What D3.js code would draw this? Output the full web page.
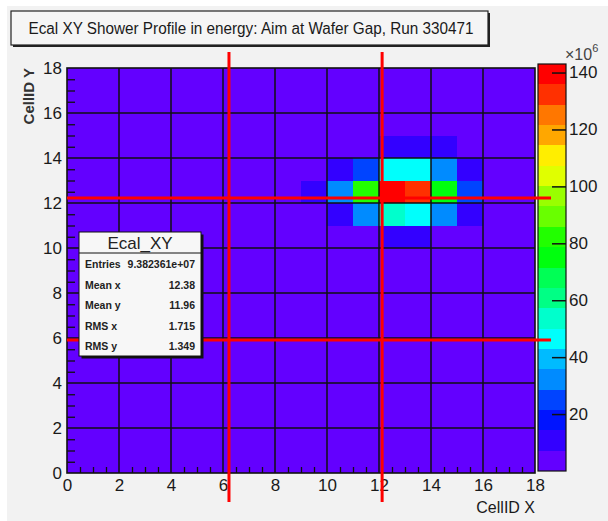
<!DOCTYPE html>
<html>
<head>
<meta charset="utf-8">
<script src="https://cdn.jsdelivr.net/npm/d3@7"></script>
<style>
  body { margin: 0; background: #fff; }
  svg { display: block; font-family: "Liberation Sans", Arial, sans-serif; }
</style>
</head>
<body>
<svg id="chart" width="608" height="521"></svg>
<script>
// cell ids on both axes, one bin per unit
const nCells = 18;
const axisTicks = [0, 2, 4, 6, 8, 10, 12, 14, 16, 18];
// energy in every bin outside the shower core (x 10^6)
const backgroundEnergy = 3;
// shower core bins: [cellX, cellY, energy x 10^6]
const hotCells = [
  [12, 14, 10], [13, 14, 10], [14, 14, 10],
  [10, 13, 10], [11, 13, 25], [12, 13, 46], [13, 13, 46], [14, 13, 32], [15, 13, 10],
  [9, 12, 10], [10, 12, 32], [11, 12, 82], [12, 12, 141], [13, 12, 133], [14, 12, 75], [15, 12, 25],
  [10, 11, 10], [11, 11, 32], [12, 11, 54], [13, 11, 46], [14, 11, 32], [15, 11, 10],
  [12, 10, 10], [13, 10, 10]
];
const zMax = 143;
const zTicks = [20, 40, 60, 80, 100, 120, 140];
const nContours = 20;
// red guide lines drawn over the plot (cell units)
const guideX = [6.23, 12.12];
const guideY = [12.22, 5.91];
const statNames = ["Entries", "Mean x", "Mean y", "RMS x", "RMS y"];
const statValues = ["9.382361e+07", "12.38", "11.96", "1.715", "1.349"];

const svg = d3.select("#chart");
svg.append("rect").attr("x", 7).attr("y", 6).attr("width", 601).attr("height", 515).attr("fill", "#f2f2f2");

const frame = { left: 67, right: 535, top: 68, bottom: 473 };
const x = d3.scaleLinear().domain([0, nCells]).range([frame.left, frame.right]);
const y = d3.scaleLinear().domain([0, nCells]).range([frame.bottom, frame.top]);

// ROOT "pretty" palette, 50 colours violet->red, picked for 20 contours
function paletteColor(k) {
  const idx = Math.floor((k + 0.99) * 50 / nContours);
  if (idx >= 49) return "#ff0000";
  return d3.hsl(280 - (idx + 1) * 5.6, 1, 0.5).formatHex();
}
const colors = d3.range(nContours).map(paletteColor);
const color = d3.scaleQuantize().domain([0, zMax]).range(colors);

// full grid of bins
const hotMap = new Map(hotCells.map(d => [d[0] + "," + d[1], d[2]]));
const bins = [];
for (let i = 0; i < nCells; i++) {
  for (let j = 0; j < nCells; j++) {
    const v = hotMap.get(i + "," + j);
    bins.push({ cx: i, cy: j, e: v === undefined ? backgroundEnergy : v });
  }
}

svg.append("g").selectAll("rect")
  .data(bins)
  .enter().append("rect")
  .attr("x", d => x(d.cx))
  .attr("y", d => y(d.cy + 1))
  .attr("width", d => x(d.cx + 1) - x(d.cx))
  .attr("height", d => y(d.cy) - y(d.cy + 1))
  .attr("fill", d => color(d.e))
  .attr("shape-rendering", "crispEdges");

// grid lines every 2 cells
const grid = svg.append("g").attr("stroke", "#111").attr("stroke-width", 1.5);
grid.selectAll("line.gx")
  .data(axisTicks.slice(1, -1))
  .enter().append("line")
  .attr("x1", d => x(d)).attr("x2", d => x(d))
  .attr("y1", frame.top).attr("y2", frame.bottom);
grid.selectAll("line.gy")
  .data(axisTicks.slice(1, -1))
  .enter().append("line")
  .attr("y1", d => y(d)).attr("y2", d => y(d))
  .attr("x1", frame.left).attr("x2", frame.right);

// minor ticks
const minor = d3.range(0, nCells + 0.01, 0.5).filter(v => v % 2 !== 0);
svg.append("g")
  .attr("transform", `translate(0,${frame.bottom})`)
  .call(d3.axisBottom(x).tickValues(minor).tickSize(-6).tickFormat(""))
  .call(g => g.select(".domain").remove())
  .selectAll("line").attr("stroke", "#111").attr("stroke-width", 1.3);
svg.append("g")
  .attr("transform", `translate(${frame.left},0)`)
  .call(d3.axisLeft(y).tickValues(minor).tickSize(-8).tickFormat(""))
  .call(g => g.select(".domain").remove())
  .selectAll("line").attr("stroke", "#111").attr("stroke-width", 1.3);

// axis labels
const xAxis = svg.append("g")
  .attr("transform", `translate(0,${frame.bottom})`)
  .call(d3.axisBottom(x).tickValues(axisTicks).tickSize(0).tickPadding(6));
xAxis.select(".domain").remove();
xAxis.selectAll("text").attr("font-size", 17).attr("fill", "#1a1a1a")
  .attr("font-family", "Liberation Sans, Arial, sans-serif");

const yAxis = svg.append("g")
  .attr("transform", `translate(${frame.left},0)`)
  .call(d3.axisLeft(y).tickValues(axisTicks).tickSize(0).tickPadding(5));
yAxis.select(".domain").remove();
yAxis.selectAll("text").attr("font-size", 17).attr("fill", "#1a1a1a")
  .attr("font-family", "Liberation Sans, Arial, sans-serif");

svg.append("rect")
  .attr("x", frame.left).attr("y", frame.top)
  .attr("width", frame.right - frame.left).attr("height", frame.bottom - frame.top)
  .attr("fill", "none").attr("stroke", "#111").attr("stroke-width", 1.6);

svg.append("text").attr("x", frame.right).attr("y", 513)
  .attr("text-anchor", "end").attr("font-size", 16).attr("fill", "#1a1a1a")
  .text("CellID X");
svg.append("text")
  .attr("transform", `translate(34,${frame.top}) rotate(-90)`)
  .attr("text-anchor", "end").attr("font-size", 15).attr("font-weight", "bold").attr("fill", "#333")
  .text("CellID Y");

// colour bar
const zx0 = 538, zx1 = 566;
const z = d3.scaleLinear().domain([0, zMax]).range([471, 64]);
const step = zMax / nContours;
svg.append("g").selectAll("rect")
  .data(colors)
  .enter().append("rect")
  .attr("x", zx0).attr("width", zx1 - zx0)
  .attr("y", (c, i) => z((i + 1) * step))
  .attr("height", (c, i) => z(i * step) - z((i + 1) * step))
  .attr("fill", c => c)
  .attr("shape-rendering", "crispEdges");
svg.append("rect").attr("x", zx0).attr("y", 64).attr("width", zx1 - zx0).attr("height", 407)
  .attr("fill", "none").attr("stroke", "#111").attr("stroke-width", 1.2);
const zAxis = svg.append("g")
  .attr("transform", `translate(${zx1},0)`)
  .call(d3.axisRight(z).tickValues(zTicks).tickSizeInner(-14).tickSizeOuter(0).tickPadding(3));
zAxis.select(".domain").remove();
zAxis.selectAll("line").attr("stroke", "#111").attr("stroke-width", 1.5);
zAxis.selectAll("text").attr("font-size", 17).attr("fill", "#1a1a1a")
  .attr("font-family", "Liberation Sans, Arial, sans-serif");
const exp = svg.append("text").attr("x", 565).attr("y", 60).attr("font-size", 16).attr("fill", "#444");
exp.append("tspan").text("\u00d710");
exp.append("tspan").attr("dy", -8).attr("font-size", 11).text("6");

// red guide lines
const guides = svg.append("g").attr("stroke", "#ff0000").attr("stroke-width", 3);
guides.selectAll("line.vx")
  .data(guideX)
  .enter().append("line")
  .attr("x1", d => x(d)).attr("x2", d => x(d))
  .attr("y1", 52).attr("y2", 502);
guides.selectAll("line.hy")
  .data(guideY)
  .enter().append("line")
  .attr("y1", d => y(d)).attr("y2", d => y(d))
  .attr("x1", frame.left).attr("x2", 551);

// stats box
const sb = { x: 79, y: 232, w: 122, h: 124 };
svg.append("rect").attr("x", sb.x + 2.5).attr("y", sb.y + 2.5).attr("width", sb.w).attr("height", sb.h).attr("fill", "#111");
svg.append("rect").attr("x", sb.x).attr("y", sb.y).attr("width", sb.w).attr("height", sb.h)
  .attr("fill", "#f7f7f7").attr("stroke", "#111").attr("stroke-width", 1);
svg.append("line").attr("x1", sb.x).attr("x2", sb.x + sb.w).attr("y1", sb.y + 21).attr("y2", sb.y + 21)
  .attr("stroke", "#111").attr("stroke-width", 1);
svg.append("text").attr("x", sb.x + sb.w / 2).attr("y", sb.y + 17).attr("text-anchor", "middle")
  .attr("font-size", 17).attr("fill", "#222").text("Ecal_XY");
const statRow = d3.scaleLinear().domain([0, 4]).range([sb.y + 36, sb.y + 118]);
svg.append("g").selectAll("text")
  .data(statNames)
  .enter().append("text")
  .attr("x", sb.x + 6).attr("y", (d, i) => statRow(i))
  .attr("font-size", 10.5).attr("font-weight", "bold").attr("fill", "#222")
  .text(d => d);
svg.append("g").selectAll("text")
  .data(statValues)
  .enter().append("text")
  .attr("x", sb.x + sb.w - 6).attr("y", (d, i) => statRow(i))
  .attr("text-anchor", "end").attr("font-size", 10.5).attr("font-weight", "bold").attr("fill", "#222")
  .text(d => d);

// title box
svg.append("rect").attr("x", 13).attr("y", 13).attr("width", 477).attr("height", 34).attr("fill", "#222");
svg.append("rect").attr("x", 11).attr("y", 11).attr("width", 477).attr("height", 34)
  .attr("fill", "#f5f5f5").attr("stroke", "#222").attr("stroke-width", 1.2);
svg.append("text").attr("x", 251).attr("y", 34).attr("text-anchor", "middle")
  .attr("font-size", 16).attr("fill", "#1a1a1a")
  .attr("textLength", 445).attr("lengthAdjust", "spacingAndGlyphs")
  .text("Ecal XY Shower Profile in energy: Aim at Wafer Gap, Run 330471");
</script>
</body>
</html>
